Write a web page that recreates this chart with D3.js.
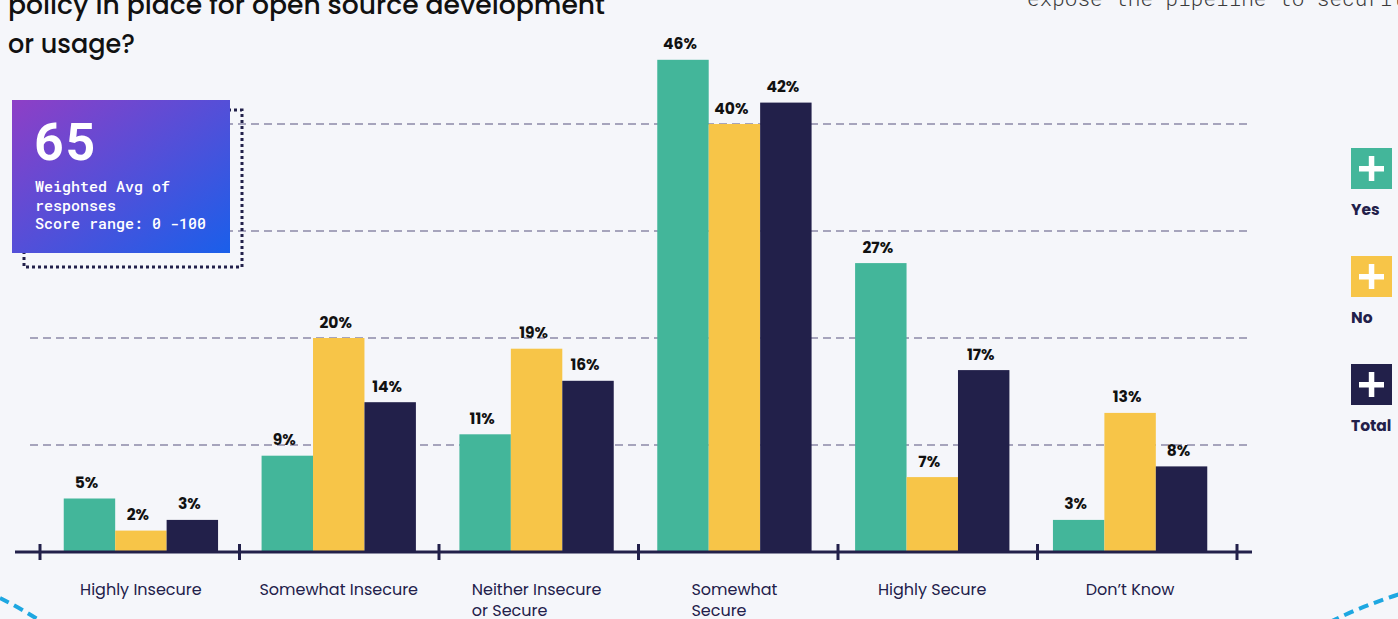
<!DOCTYPE html>
<html><head><meta charset="utf-8">
<script src="https://cdn.jsdelivr.net/npm/d3@7"></script>
<style>
html,body{margin:0;padding:0;background:#f5f6fa;}
svg{display:block;}
</style></head>
<body>
<svg id="chart" width="1398" height="619"></svg>
<script>
// ---- data ----
const categories = [["Highly Insecure"], ["Somewhat Insecure"], ["Neither Insecure", "or Secure"], ["Somewhat", "Secure"], ["Highly Secure"], ["Don\u2019t Know"]];
const seriesNames = ["Yes", "No", "Total"];
const yesValues   = [5, 9, 11, 46, 27, 3];
const noValues    = [2, 20, 19, 40, 7, 13];
const totalValues = [3, 14, 16, 42, 17, 8];
const gridValues  = [10, 20, 30, 40];
const titleLines  = ["policy in place for open source development", "or usage?"];
const sideNote    = "expose the pipeline to security";
const scoreValue  = "65";
const scoreLines  = ["Weighted Avg of", "responses", "Score range: 0 -100"];

const colors = {Yes: "#43b69a", No: "#f7c548", Total: "#22204a"};
const navy = "#22204a";
const sans = "Poppins, Inter, 'Noto Sans', sans-serif";
const mono = "'Roboto Mono', 'DejaVu Sans Mono', 'Liberation Mono', monospace";

const svg = d3.select("#chart");
svg.append("rect").attr("width", 1398).attr("height", 619).attr("fill", "#f5f6fa");

const catKeys = categories.map(c => c.join(" "));
const series = {Yes: yesValues, No: noValues, Total: totalValues};

const x0 = d3.scaleBand().domain(catKeys).range([40, 1231]).paddingInner(0.22).paddingOuter(0.12);
const x1 = d3.scaleBand().domain(seriesNames).range([0, x0.bandwidth()]);
const xTicks = d3.scalePoint().domain(d3.range(categories.length + 1)).range([40, 1237]);
const y = d3.scaleLinear().domain([0, 40]).range([552, 124]);

// title
const title = svg.append("g").attr("font-family", sans)
  .attr("font-weight", 500).attr("font-size", 26).attr("fill", "#111");
title.append("text").attr("x", 8).attr("y", 14).text(titleLines[0])
  .attr("textLength", 597).attr("lengthAdjust", "spacingAndGlyphs");
title.append("text").attr("x", 8).attr("y", 53).text(titleLines[1])
  .attr("textLength", 127).attr("lengthAdjust", "spacingAndGlyphs");

// side note
svg.append("text").attr("x", 1027).attr("y", 6)
  .attr("font-family", mono)
  .attr("font-size", 21).attr("fill", "#3a3a3a").attr("font-weight", 300)
  .text(sideNote);

// gridlines
svg.append("g").selectAll("line").data(gridValues).join("line")
  .attr("x1", 30).attr("x2", 1252)
  .attr("y1", d => y(d)).attr("y2", d => y(d))
  .attr("stroke", "#8c89a8").attr("stroke-width", 1.3).attr("stroke-dasharray", "8,5");

// bars
const groups = svg.append("g").selectAll("g").data(catKeys).join("g")
  .attr("transform", d => `translate(${x0(d)},0)`);
groups.each(function(cat, i) {
  const g = d3.select(this);
  seriesNames.forEach(s => {
    const v = series[s][i];
    g.append("rect").attr("x", x1(s)).attr("width", x1.bandwidth())
      .attr("y", y(v)).attr("height", y(0) - y(v)).attr("fill", colors[s]);
    g.append("text").attr("x", x1(s) + x1.bandwidth() / 2 - 3).attr("y", y(v) - 10.5)
      .attr("text-anchor", "middle")
      .attr("font-family", sans)
      .attr("font-weight", 700).attr("font-size", 15.5).attr("fill", "#111")
      .text(v + "%");
  });
});

// axis line and ticks
svg.append("line").attr("x1", 15).attr("x2", 1252).attr("y1", y(0)).attr("y2", y(0))
  .attr("stroke", navy).attr("stroke-width", 3);
svg.append("g").selectAll("line").data(xTicks.domain()).join("line")
  .attr("x1", d => xTicks(d)).attr("x2", d => xTicks(d)).attr("y1", y(0) - 8).attr("y2", y(0) + 8)
  .attr("stroke", navy).attr("stroke-width", 3);

// category labels
categories.forEach((lines, i) => {
  const cx = x0(catKeys[i]) + x0.bandwidth() / 2;
  const t = svg.append("text")
    .attr("font-family", sans)
    .attr("font-size", 16).attr("fill", navy).attr("y", 595);
  lines.forEach((ln, j) => {
    t.append("tspan").attr("dy", j === 0 ? 0 : 21).text(ln);
  });
  if (lines.length === 1) {
    t.attr("text-anchor", "middle").selectAll("tspan").attr("x", cx);
  } else {
    const w = d3.max(t.selectAll("tspan").nodes(), n => n.getComputedTextLength());
    t.selectAll("tspan").attr("x", cx - w / 2);
  }
});

// score box
const defs = svg.append("defs");
const grad = defs.append("linearGradient").attr("id", "sg")
  .attr("x1", "0%").attr("y1", "0%").attr("x2", "100%").attr("y2", "100%");
grad.append("stop").attr("offset", "0%").attr("stop-color", "#8e3fc6");
grad.append("stop").attr("offset", "100%").attr("stop-color", "#1a5fea");
svg.append("rect").attr("x", 24).attr("y", 110).attr("width", 218).attr("height", 157)
  .attr("fill", "none").attr("stroke", navy).attr("stroke-width", 3).attr("stroke-dasharray", "3,3");
svg.append("rect").attr("x", 12).attr("y", 100).attr("width", 218).attr("height", 153)
  .attr("fill", "url(#sg)");
svg.append("text").attr("x", 34).attr("y", 160)
  .attr("font-family", mono)
  .attr("font-weight", 700).attr("font-size", 52).attr("fill", "#fff").text(scoreValue);
scoreLines.forEach((ln, j) => {
  svg.append("text").attr("x", 35).attr("y", 192 + j * 18.5)
    .attr("font-family", mono).attr("font-weight", 500)
    .attr("font-size", 15).attr("fill", "#fff").text(ln);
});

// legend
seriesNames.forEach((s, i) => {
  const ly = 148 + i * 108;
  const g = svg.append("g").attr("transform", `translate(1351,${ly})`);
  g.append("rect").attr("width", 41).attr("height", 41).attr("fill", colors[s]);
  g.append("rect").attr("x", 8).attr("y", 18).attr("width", 25).attr("height", 5.5).attr("fill", "#fff");
  g.append("rect").attr("x", 17.8).attr("y", 8).attr("width", 5.5).attr("height", 25).attr("fill", "#fff");
  g.append("text").attr("x", 0).attr("y", 67)
    .attr("font-family", sans)
    .attr("font-weight", 700).attr("font-size", 15.5).attr("fill", navy).text(s);
});

// decorative dashed arcs
svg.append("path").attr("d", "M0,598 Q20,608 42,622")
  .attr("fill", "none").attr("stroke", "#1ea7e1").attr("stroke-width", 4).attr("stroke-dasharray", "10,6");
svg.append("path").attr("d", "M1330,622 Q1362,606 1400,594")
  .attr("fill", "none").attr("stroke", "#1ea7e1").attr("stroke-width", 4).attr("stroke-dasharray", "10,6");
</script>
</body></html>
